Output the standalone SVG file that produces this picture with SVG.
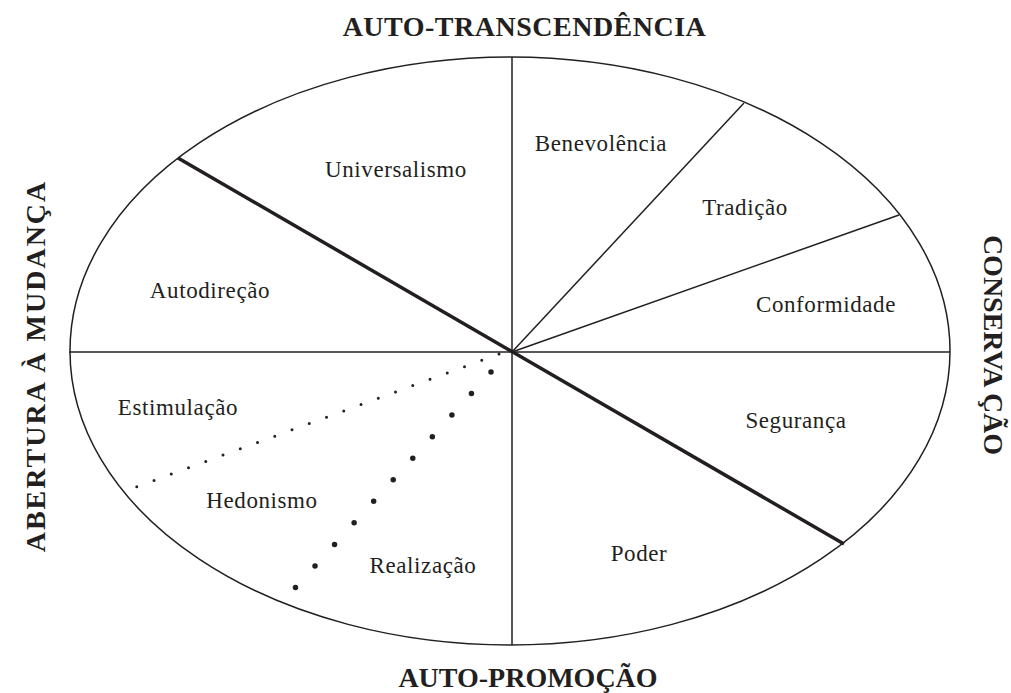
<svg xmlns="http://www.w3.org/2000/svg" width="1011" height="693" viewBox="0 0 1011 693">
<style>
.lbl{font-family:"Liberation Serif","Times New Roman",serif;font-size:23px;letter-spacing:0.6px;fill:#231f20}
.ttl{font-family:"Liberation Serif","Times New Roman",serif;font-size:28px;font-weight:bold;fill:#231f20}
.thin{stroke:#231f20;stroke-width:1.5;fill:none}
.thick{stroke:#231f20;stroke-width:3.5;fill:none}
</style>
<rect width="1011" height="693" fill="#fff"/>
<g id="circle">
<ellipse cx="510" cy="351" rx="440" ry="294" class="thin"/>
</g>
<g id="connectors">
<line x1="512" y1="57" x2="512" y2="645" class="thin"/>
<line x1="69" y1="352" x2="950" y2="352" class="thin"/>
<line x1="178" y1="158" x2="844" y2="544" class="thick"/>
<line x1="512" y1="352" x2="744" y2="103" class="thin"/>
<line x1="512" y1="352" x2="899" y2="215" class="thin"/>
<line x1="499" y1="354" x2="136" y2="487" stroke="#231f20" stroke-width="3" stroke-linecap="round" stroke-dasharray="0 18.37"/>
<line x1="491" y1="372" x2="295" y2="588" stroke="#231f20" stroke-width="5.5" stroke-linecap="round" stroke-dasharray="0 29.1"/>
</g>
<g id="axes">
<text class="ttl" x="524.5" y="36" text-anchor="middle" letter-spacing="0.5">AUTO-TRANSCENDÊNCIA</text>
<text class="ttl" x="528" y="687" text-anchor="middle">AUTO-PROMOÇÃO</text>
<text class="ttl" transform="translate(45,366) rotate(-90)" text-anchor="middle" letter-spacing="2">ABERTURA À MUDANÇA</text>
<text class="ttl" transform="translate(984,345) rotate(90)" text-anchor="middle">CONSERVA ÇÃO</text>
</g>
<g id="node-universalismo"><text class="lbl" x="396" y="177" text-anchor="middle">Universalismo</text></g>
<g id="node-benevolencia"><text class="lbl" x="601" y="151" text-anchor="middle">Benevolência</text></g>
<g id="node-tradicao"><text class="lbl" x="745" y="215" text-anchor="middle">Tradição</text></g>
<g id="node-conformidade"><text class="lbl" x="826" y="312" text-anchor="middle">Conformidade</text></g>
<g id="node-autodirecao"><text class="lbl" x="210" y="298" text-anchor="middle">Autodireção</text></g>
<g id="node-estimulacao"><text class="lbl" x="178" y="415" text-anchor="middle">Estimulação</text></g>
<g id="node-hedonismo"><text class="lbl" x="262" y="508" text-anchor="middle">Hedonismo</text></g>
<g id="node-realizacao"><text class="lbl" x="423" y="573" text-anchor="middle">Realização</text></g>
<g id="node-seguranca"><text class="lbl" x="796" y="428" text-anchor="middle">Segurança</text></g>
<g id="node-poder"><text class="lbl" x="639" y="561" text-anchor="middle">Poder</text></g>
</svg>
